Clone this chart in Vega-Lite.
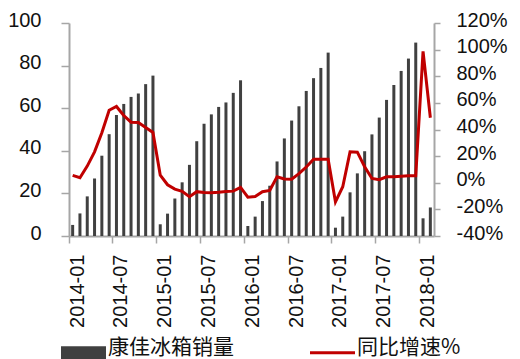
{
  "$schema": "https://vega.github.io/schema/vega-lite/v6.json",
  "autosize": {"type": "none"},
  "width": 365,
  "height": 213,
  "padding": {"left": 69, "top": 23, "right": 86, "bottom": 123},
  "background": "white",
  "config": {
    "view": {"stroke": null},
    "axis": {
      "labelFont": "Liberation Sans",
      "labelFontSize": 20,
      "labelColor": "#111111",
      "domainColor": "#a6a6a6",
      "domainWidth": 2,
      "tickColor": "#a6a6a6",
      "tickWidth": 1.5,
      "grid": false,
      "title": null
    },
    "legend": {
      "labelFont": "Noto Sans CJK SC",
      "labelFontSize": 21,
      "labelColor": "#111111"
    }
  },
  "data": {
    "values": [
      {"month": "2014-01", "sales": 5.2, "yoy": 5.5},
      {"month": "2014-02", "sales": 10.6, "yoy": 3.8},
      {"month": "2014-03", "sales": 18.6, "yoy": 12.5},
      {"month": "2014-04", "sales": 27.0, "yoy": 23.2},
      {"month": "2014-05", "sales": 37.7, "yoy": 37.5},
      {"month": "2014-06", "sales": 47.8, "yoy": 54.5},
      {"month": "2014-07", "sales": 56.8, "yoy": 57.3},
      {"month": "2014-08", "sales": 62.0, "yoy": 50.5},
      {"month": "2014-09", "sales": 65.3, "yoy": 45.5},
      {"month": "2014-10", "sales": 66.9, "yoy": 45.2},
      {"month": "2014-11", "sales": 71.3, "yoy": 41.5},
      {"month": "2014-12", "sales": 75.3, "yoy": 37.8},
      {"month": "2015-01", "sales": 5.5, "yoy": 5.7},
      {"month": "2015-02", "sales": 10.5, "yoy": -1.5},
      {"month": "2015-03", "sales": 17.6, "yoy": -4.8},
      {"month": "2015-04", "sales": 25.2, "yoy": -6.4},
      {"month": "2015-05", "sales": 33.4, "yoy": -10.5},
      {"month": "2015-06", "sales": 44.5, "yoy": -6.7},
      {"month": "2015-07", "sales": 52.7, "yoy": -7.4},
      {"month": "2015-08", "sales": 57.1, "yoy": -7.6},
      {"month": "2015-09", "sales": 60.6, "yoy": -7.2},
      {"month": "2015-10", "sales": 62.7, "yoy": -6.6},
      {"month": "2015-11", "sales": 67.2, "yoy": -6.3},
      {"month": "2015-12", "sales": 73.1, "yoy": -3.5},
      {"month": "2016-01", "sales": 4.7, "yoy": -10.8},
      {"month": "2016-02", "sales": 9.1, "yoy": -10.4},
      {"month": "2016-03", "sales": 16.4, "yoy": -6.7},
      {"month": "2016-04", "sales": 23.6, "yoy": -5.8},
      {"month": "2016-05", "sales": 35.0, "yoy": 4.5},
      {"month": "2016-06", "sales": 45.8, "yoy": 2.8},
      {"month": "2016-07", "sales": 54.2, "yoy": 2.7},
      {"month": "2016-08", "sales": 60.9, "yoy": 6.8},
      {"month": "2016-09", "sales": 68.1, "yoy": 11.8},
      {"month": "2016-10", "sales": 74.1, "yoy": 17.6},
      {"month": "2016-11", "sales": 78.9, "yoy": 17.6},
      {"month": "2016-12", "sales": 86.1, "yoy": 17.6},
      {"month": "2017-01", "sales": 3.9, "yoy": -14.3},
      {"month": "2017-02", "sales": 9.1, "yoy": -3.0},
      {"month": "2017-03", "sales": 20.5, "yoy": 23.2},
      {"month": "2017-04", "sales": 29.4, "yoy": 23.0},
      {"month": "2017-05", "sales": 39.8, "yoy": 12.0},
      {"month": "2017-06", "sales": 47.7, "yoy": 3.2},
      {"month": "2017-07", "sales": 55.6, "yoy": 2.3},
      {"month": "2017-08", "sales": 63.9, "yoy": 4.5},
      {"month": "2017-09", "sales": 70.9, "yoy": 4.5},
      {"month": "2017-10", "sales": 77.5, "yoy": 4.8},
      {"month": "2017-11", "sales": 83.3, "yoy": 5.2},
      {"month": "2017-12", "sales": 90.8, "yoy": 5.2},
      {"month": "2018-01", "sales": 8.3, "yoy": 98.7},
      {"month": "2018-02", "sales": 13.4, "yoy": 48.8}
    ]
  },
  "encoding": {
    "x": {
      "field": "month",
      "type": "ordinal",
      "scale": {"paddingInner": 0, "paddingOuter": 0},
      "axis": {
        "values": ["2014-01", "2014-07", "2015-01", "2015-07", "2016-01", "2016-07", "2017-01", "2017-07", "2018-01"],
        "bandPosition": 0,
        "labelOffset": 5,
        "labelAngle": -90,
        "labelAlign": "right",
        "labelBaseline": "middle",
        "tickSize": 7,
        "labelPadding": 11
      }
    }
  },
  "layer": [
    {
      "mark": {"type": "bar", "width": 3},
      "encoding": {
        "y": {
          "field": "sales",
          "type": "quantitative",
          "scale": {"domain": [0, 100], "nice": false},
          "axis": {
            "values": [0, 20, 40, 60, 80, 100],
            "tickSize": 8,
            "labelPadding": 20,
            "labelOffset": -3
          }
        },
        "color": {
          "datum": "康佳冰箱销量",
          "scale": {"domain": ["康佳冰箱销量", "同比增速%"], "range": ["#404040", "#c00000"]},
          "legend": {
            "title": null,
            "orient": "none",
            "legendX": 4,
            "legendY": 319,
            "direction": "horizontal",
            "symbolSize": 2025,
            "labelOffset": 14,
            "columnPadding": 70,
            "encode": {
              "symbols": {
                "update": {
                  "shape": {"signal": "datum.value === '同比增速%' ? 'stroke' : 'M-1,-0.28H1V0.28H-1Z'"},
                  "fill": {"signal": "datum.value === '同比增速%' ? 'transparent' : '#404040'"},
                  "stroke": {"signal": "datum.value === '同比增速%' ? '#c00000' : 'transparent'"},
                  "strokeWidth": {"signal": "datum.value === '同比增速%' ? 3 : 0"},
                  "opacity": {"value": 1}
                }
              },
              "labels": {
                "update": {
                  "dy": {"value": -5}
                }
              }
            }
          }
        }
      }
    },
    {
      "mark": {"type": "line", "strokeWidth": 3},
      "encoding": {
        "y": {
          "field": "yoy",
          "type": "quantitative",
          "scale": {"domain": [-40, 120], "nice": false},
          "axis": {
            "orient": "right",
            "values": [-40, -20, 0, 20, 40, 60, 80, 100, 120],
            "labelExpr": "datum.value + '%'",
            "tickSize": 6,
            "labelPadding": 16,
            "labelOffset": -3
          }
        },
        "color": {"datum": "同比增速%"}
      }
    }
  ],
  "resolve": {"scale": {"y": "independent"}}
}
